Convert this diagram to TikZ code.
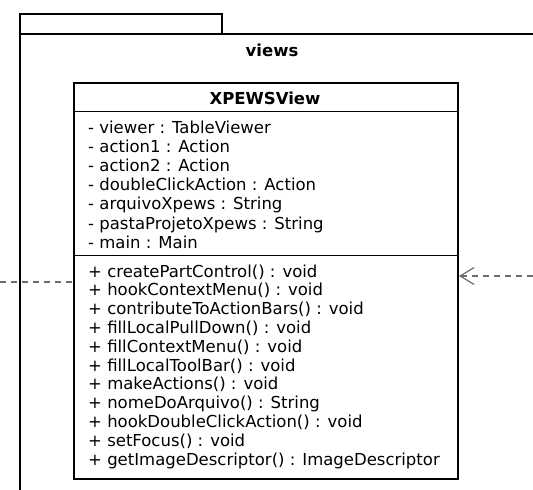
\documentclass[tikz,border=0pt]{standalone}
\usepackage{fontspec}
\setmainfont{DejaVu Sans}
\usetikzlibrary{arrows.meta}
\begin{document}
\begin{tikzpicture}[x=1bp,y=-1bp,
  box/.style={draw=black, line width=2bp, inner sep=0pt, anchor=north west},
  txt/.style={anchor=base west, inner sep=0pt, font=\fontsize{16.5bp}{18.9bp}\selectfont},
  boldtxt/.style={anchor=base, inner sep=0pt, font=\fontsize{16.5bp}{18.9bp}\selectfont\bfseries},
  sep/.style={draw=black, line width=1bp},
  dep/.style={draw=gray!85!black, line width=1.2bp, dash pattern=on 6bp off 5bp}]
\useasboundingbox (0,0) rectangle (533,490);
\clip (0,0) rectangle (533,490);
% package
\node[box, minimum width=202bp, minimum height=20bp] (tab) at (19,13) {};
\node[box, minimum width=600bp, minimum height=560bp] (pkg) at (19,33) {};
\node[boldtxt] (pkgname) at (272,57) {views};
% class
\node[box, fill=white, minimum width=384bp, minimum height=396bp] (cls) at (73,82) {};
\coordinate (s1) at (73,112);
\coordinate (s2) at (73,255);
\draw[sep] (s1) -- (s1 -| cls.east);
\draw[sep] (s2) -- (s2 -| cls.east);
\node[boldtxt] (title) at (265,105) {XPEWSView};
\foreach \t [count=\i] in {{- viewer : TableViewer},{- action1 : Action},{- action2 : Action},{- doubleClickAction : Action},{- arquivoXpews : String},{- pastaProjetoXpews : String},{- main : Main}}
  \node[txt] (a\i) at (88,{134+19*(\i-1)}) {\t};
\foreach \t [count=\i] in {{+ createPartControl() : void},{+ hookContextMenu() : void},{+ contributeToActionBars() : void},{+ fillLocalPullDown() : void},{+ fillContextMenu() : void},{+ fillLocalToolBar() : void},{+ makeActions() : void},{+ nomeDoArquivo() : String},{+ hookDoubleClickAction() : void},{+ setFocus() : void},{+ getImageDescriptor() : ImageDescriptor}}
  \node[txt] (m\i) at (88,{277+18.8*(\i-1)}) {\t};
% connectors
\coordinate (lin) at (0,282);
\coordinate (rin) at (533,276);
\draw[dep] (lin) -- (lin -| cls.west);
\draw[dep, -{Straight Barb[length=14bp,width=17bp,line width=1.2bp]}] (rin) -- (rin -| cls.east);
\end{tikzpicture}
\end{document}
